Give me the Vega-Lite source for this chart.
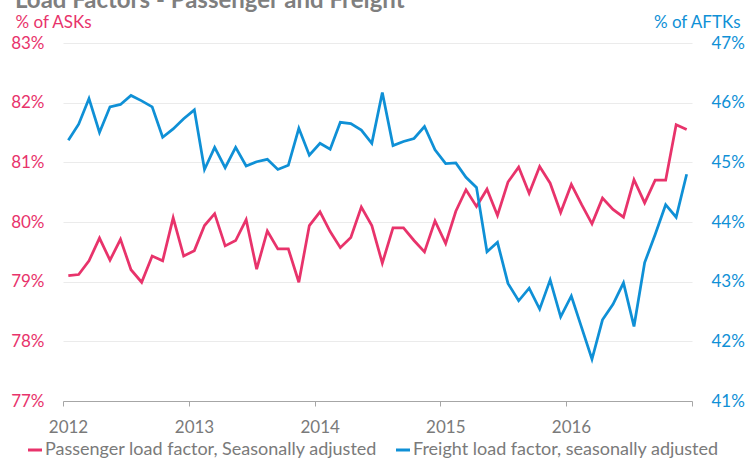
{
  "$schema": "https://vega.github.io/schema/vega-lite/v6.json",
  "width": 629,
  "height": 358,
  "autosize": {"type": "none"},
  "padding": {"left": 63, "top": 43, "right": 54, "bottom": 58},
  "background": "white",
  "title": {
    "text": "Load Factors - Passenger and Freight",
    "anchor": "start",
    "frame": "group",
    "orient": "top",
    "offset": 5,
    "dy": 24,
    "dx": -48,
    "baseline": "alphabetic",
    "font": "Lato",
    "fontSize": 24,
    "fontWeight": "bold",
    "color": "#7f7f7f"
  },
  "config": {
    "view": {"stroke": null},
    "font": "Lato"
  },
  "data": {
    "values": [
      {"month": "2012-01-01", "Passenger": 79.10, "Freight": 45.37},
      {"month": "2012-02-01", "Passenger": 79.12, "Freight": 45.64},
      {"month": "2012-03-01", "Passenger": 79.35, "Freight": 46.07},
      {"month": "2012-04-01", "Passenger": 79.73, "Freight": 45.50},
      {"month": "2012-05-01", "Passenger": 79.36, "Freight": 45.93},
      {"month": "2012-06-01", "Passenger": 79.71, "Freight": 45.97},
      {"month": "2012-07-01", "Passenger": 79.20, "Freight": 46.12},
      {"month": "2012-08-01", "Passenger": 78.99, "Freight": 46.03},
      {"month": "2012-09-01", "Passenger": 79.43, "Freight": 45.93},
      {"month": "2012-10-01", "Passenger": 79.35, "Freight": 45.42},
      {"month": "2012-11-01", "Passenger": 80.07, "Freight": 45.56},
      {"month": "2012-12-01", "Passenger": 79.43, "Freight": 45.73},
      {"month": "2013-01-01", "Passenger": 79.52, "Freight": 45.88},
      {"month": "2013-02-01", "Passenger": 79.94, "Freight": 44.88},
      {"month": "2013-03-01", "Passenger": 80.14, "Freight": 45.25},
      {"month": "2013-04-01", "Passenger": 79.60, "Freight": 44.91},
      {"month": "2013-05-01", "Passenger": 79.69, "Freight": 45.25},
      {"month": "2013-06-01", "Passenger": 80.04, "Freight": 44.94},
      {"month": "2013-07-01", "Passenger": 79.21, "Freight": 45.01},
      {"month": "2013-08-01", "Passenger": 79.85, "Freight": 45.05},
      {"month": "2013-09-01", "Passenger": 79.55, "Freight": 44.88},
      {"month": "2013-10-01", "Passenger": 79.55, "Freight": 44.95},
      {"month": "2013-11-01", "Passenger": 78.99, "Freight": 45.57},
      {"month": "2013-12-01", "Passenger": 79.94, "Freight": 45.12},
      {"month": "2014-01-01", "Passenger": 80.17, "Freight": 45.32},
      {"month": "2014-02-01", "Passenger": 79.84, "Freight": 45.22},
      {"month": "2014-03-01", "Passenger": 79.57, "Freight": 45.67},
      {"month": "2014-04-01", "Passenger": 79.74, "Freight": 45.65},
      {"month": "2014-05-01", "Passenger": 80.25, "Freight": 45.54},
      {"month": "2014-06-01", "Passenger": 79.94, "Freight": 45.32},
      {"month": "2014-07-01", "Passenger": 79.31, "Freight": 46.17},
      {"month": "2014-08-01", "Passenger": 79.90, "Freight": 45.28},
      {"month": "2014-09-01", "Passenger": 79.90, "Freight": 45.35},
      {"month": "2014-10-01", "Passenger": 79.69, "Freight": 45.40},
      {"month": "2014-11-01", "Passenger": 79.50, "Freight": 45.60},
      {"month": "2014-12-01", "Passenger": 80.02, "Freight": 45.21},
      {"month": "2015-01-01", "Passenger": 79.64, "Freight": 44.98},
      {"month": "2015-02-01", "Passenger": 80.18, "Freight": 44.99},
      {"month": "2015-03-01", "Passenger": 80.54, "Freight": 44.75},
      {"month": "2015-04-01", "Passenger": 80.26, "Freight": 44.58},
      {"month": "2015-05-01", "Passenger": 80.55, "Freight": 43.50},
      {"month": "2015-06-01", "Passenger": 80.11, "Freight": 43.66},
      {"month": "2015-07-01", "Passenger": 80.67, "Freight": 42.97},
      {"month": "2015-08-01", "Passenger": 80.92, "Freight": 42.68},
      {"month": "2015-09-01", "Passenger": 80.48, "Freight": 42.89},
      {"month": "2015-10-01", "Passenger": 80.93, "Freight": 42.54},
      {"month": "2015-11-01", "Passenger": 80.65, "Freight": 43.03},
      {"month": "2015-12-01", "Passenger": 80.16, "Freight": 42.41},
      {"month": "2016-01-01", "Passenger": 80.63, "Freight": 42.76},
      {"month": "2016-02-01", "Passenger": 80.29, "Freight": 42.23},
      {"month": "2016-03-01", "Passenger": 79.97, "Freight": 41.70},
      {"month": "2016-04-01", "Passenger": 80.40, "Freight": 42.36},
      {"month": "2016-05-01", "Passenger": 80.21, "Freight": 42.62},
      {"month": "2016-06-01", "Passenger": 80.08, "Freight": 42.98},
      {"month": "2016-07-01", "Passenger": 80.71, "Freight": 42.25},
      {"month": "2016-08-01", "Passenger": 80.32, "Freight": 43.32},
      {"month": "2016-09-01", "Passenger": 80.70, "Freight": 43.79},
      {"month": "2016-10-01", "Passenger": 80.70, "Freight": 44.29},
      {"month": "2016-11-01", "Passenger": 81.63, "Freight": 44.08},
      {"month": "2016-12-01", "Passenger": 81.55, "Freight": 44.80}
    ]
  },
  "encoding": {
    "x": {
      "field": "month",
      "timeUnit": "yearmonth",
      "type": "temporal",
      "bandPosition": 0.5,
      "scale": {"domain": [{"year": 2012, "month": 1, "date": 1}, {"year": 2017, "month": 1, "date": 1}]},
      "axis": {
        "title": null,
        "values": [
          {"year": 2012, "month": 1, "date": 1},
          {"year": 2013, "month": 1, "date": 1},
          {"year": 2014, "month": 1, "date": 1},
          {"year": 2015, "month": 1, "date": 1},
          {"year": 2016, "month": 1, "date": 1},
          {"year": 2017, "month": 1, "date": 1}
        ],
        "labelExpr": "year(datum.value) < 2017 ? timeFormat(datum.value, '%Y') : ''",
        "grid": false,
        "domainColor": "#a6a6a6",
        "domainWidth": 1,
        "tickColor": "#a6a6a6",
        "tickSize": 5,
        "labelOffset": 5,
        "labelPadding": 13,
        "labelFont": "Lato",
        "labelFontSize": 17,
        "labelColor": "#7a7a7a",
        "labelFlush": false,
        "labelOverlap": false
      }
    }
  },
  "layer": [
    {
      "mark": {"type": "line", "strokeWidth": 2.75},
      "encoding": {
        "y": {
          "field": "Passenger",
          "type": "quantitative",
          "scale": {"domain": [77, 83], "zero": false, "nice": false},
          "axis": {
            "orient": "left",
            "values": [77, 78, 79, 80, 81, 82, 83],
            "labelExpr": "datum.value + '%'",
            "title": "% of ASKs",
            "titleAngle": 0,
            "titleX": -48,
            "titleY": -21,
            "titleAlign": "left",
            "titleBaseline": "middle",
            "titleFont": "Lato",
            "titleFontSize": 17,
            "titleFontWeight": "normal",
            "titleColor": "#e8336b",
            "labelColor": "#e8336b",
            "labelFont": "Lato",
            "labelFontSize": 17,
            "labelPadding": 19,
            "labelBaseline": "middle",
            "domain": false,
            "ticks": false,
            "grid": true,
            "gridColor": "#ebebeb",
            "gridWidth": 1
          }
        },
        "color": {
          "datum": "Passenger load factor, Seasonally adjusted",
          "type": "nominal",
          "scale": {
            "domain": ["Passenger load factor, Seasonally adjusted", "Freight load factor, seasonally adjusted"],
            "range": ["#e8336b", "#0f90d6"]
          },
          "legend": {
            "title": null,
            "orient": "none",
            "legendX": -37,
            "legendY": 398,
            "direction": "horizontal",
            "padding": 0,
            "symbolType": "stroke",
            "symbolSize": 196,
            "symbolStrokeWidth": 3,
            "labelFont": "Lato",
            "labelFontSize": 18,
            "labelColor": "#7a7a7a",
            "labelOffset": 1,
            "columnPadding": 12,
            "labelLimit": 400
          }
        }
      }
    },
    {
      "mark": {"type": "line", "strokeWidth": 2.75},
      "encoding": {
        "y": {
          "field": "Freight",
          "type": "quantitative",
          "scale": {"domain": [41, 47], "zero": false, "nice": false},
          "axis": {
            "orient": "right",
            "values": [41, 42, 43, 44, 45, 46, 47],
            "labelExpr": "datum.value + '%'",
            "title": "% of AFTKs",
            "titleAngle": 0,
            "titleX": 48,
            "titleY": -21,
            "titleAlign": "right",
            "titleBaseline": "middle",
            "titleFont": "Lato",
            "titleFontSize": 17,
            "titleFontWeight": "normal",
            "titleColor": "#0f90d6",
            "labelColor": "#0f90d6",
            "labelFont": "Lato",
            "labelFontSize": 17,
            "labelPadding": 19,
            "labelBaseline": "middle",
            "domain": false,
            "ticks": false,
            "grid": false
          }
        },
        "color": {
          "datum": "Freight load factor, seasonally adjusted",
          "type": "nominal"
        }
      }
    }
  ],
  "resolve": {"scale": {"y": "independent"}}
}
